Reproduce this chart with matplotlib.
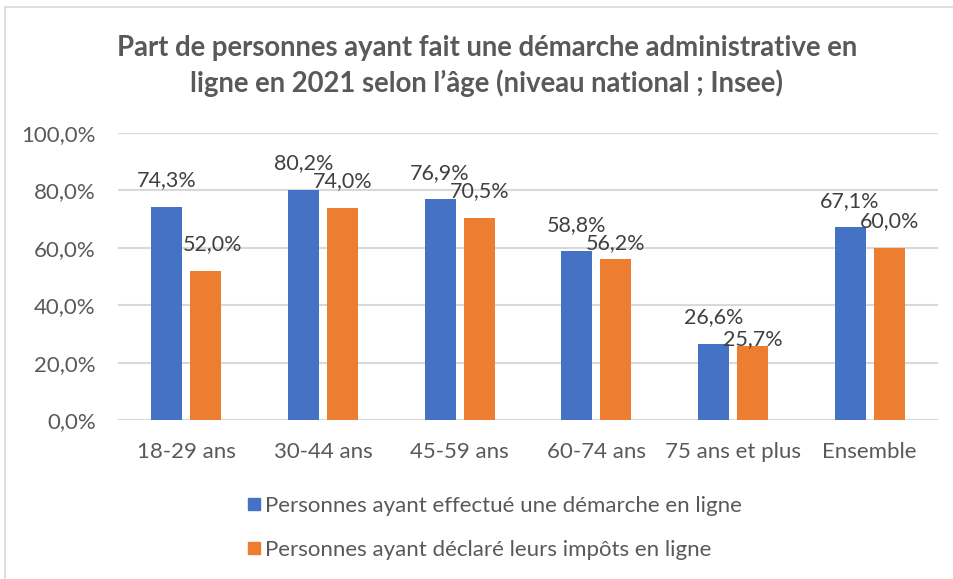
from matplotlib import pyplot as plt
from matplotlib.patches import Rectangle
from matplotlib.lines import Line2D
from matplotlib.ticker import FuncFormatter
import numpy as np

plt.rcParams['font.family'] = ['Lato', 'DejaVu Sans']

categories = ["18-29 ans", "30-44 ans", "45-59 ans", "60-74 ans", "75 ans et plus", "Ensemble"]
demarche = [74.3, 80.2, 76.9, 58.8, 26.6, 67.1]
impots = [52.0, 74.0, 70.5, 56.2, 25.7, 60.0]
series_names = ["Personnes ayant effectué une démarche en ligne",
                "Personnes ayant déclaré leurs impôts en ligne"]
title = ("Part de personnes ayant fait une démarche administrative en\n"
         "ligne en 2021 selon l’âge (niveau national ; Insee)")

blue = "#4472C4"
orange = "#ED7D31"
grey_txt = "#595959"
label_txt = "#404040"

# small label shifts (points) where labels would collide
nudge = {(1, 0): (5, 0), (1, 3): (0, -8), (1, 4): (0, -14)}

def fr_pct(v, pos=None):
    return f"{v:.1f}".replace(".", ",") + "%"

fig = plt.figure(figsize=(9.54, 5.79), dpi=100)
ax = fig.add_axes([118/954, 1 - 420/579, 820/954, 287/579])

x = np.arange(len(categories))
w = 0.227
off = 0.143
for s, (vals, col) in enumerate([(demarche, blue), (impots, orange)]):
    xs = x - off if s == 0 else x + off
    ax.bar(xs, vals, width=w, color=col, zorder=3, label=series_names[s])
    for i, v in enumerate(vals):
        dx, dy = nudge.get((s, i), (0, 0))
        ax.annotate(fr_pct(v), (xs[i], v), xytext=(dx, 19 + dy),
                    textcoords="offset points", ha="center", va="center",
                    fontsize=15.5, color=label_txt, zorder=4)

ax.set_xlim(-0.5, len(categories) - 0.5)
ax.set_ylim(0, 100)
ax.set_yticks(np.arange(0, 101, 20))
ax.yaxis.set_major_formatter(FuncFormatter(fr_pct))
ax.set_xticks(x)
ax.set_xticklabels(categories)
ax.tick_params(axis="both", length=0, labelsize=16, labelcolor=grey_txt)
ax.tick_params(axis="y", pad=16)
ax.tick_params(axis="x", pad=16)
ax.grid(axis="y", color="#d9d9d9", linewidth=1.5, zorder=0)
for sp in ax.spines.values():
    sp.set_visible(False)

fig.text(487/954, 1 - 66/579, title, ha="center", va="center",
         fontsize=19.8, fontweight="bold", color=grey_txt, linespacing=1.33)

handles = [Line2D([], [], marker="s", linestyle="none", markersize=8, color=c)
           for c in (blue, orange)]
fig.legend(handles, series_names, loc="center left",
           bbox_to_anchor=(223/954, 1 - 528/579), frameon=False,
           fontsize=16, labelcolor=grey_txt, handletextpad=0.0,
           labelspacing=1.1, handlelength=1.0)

# chart frame
fig.add_artist(Rectangle((5/954, -0.1), 1.2, 1 - 7/579 + 0.1,
                         transform=fig.transFigure, fill=False,
                         edgecolor="#d9d9d9", linewidth=1.2))

fig.savefig("out.png", dpi=100)
